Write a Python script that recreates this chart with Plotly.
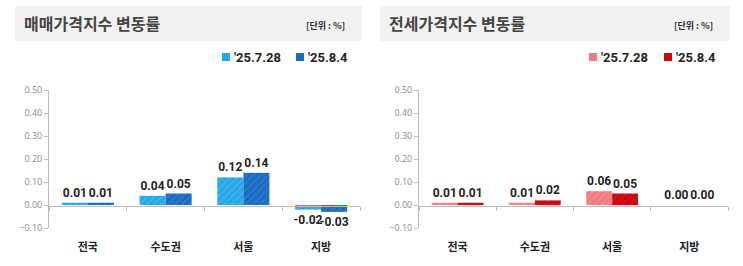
import plotly.graph_objects as go

categories = ["전국", "수도권", "서울", "지방"]
sale_0728 = [0.01, 0.04, 0.12, -0.02]
sale_0804 = [0.01, 0.05, 0.14, -0.03]
jeonse_0728 = [0.01, 0.01, 0.06, 0.00]
jeonse_0804 = [0.01, 0.02, 0.05, 0.00]
series_names = ["'25.7.28", "'25.8.4"]
titles = ["매매가격지수 변동률", "전세가격지수 변동률"]
unit_label = "[단위 : %]"
y_ticks = [-0.1, 0.0, 0.1, 0.2, 0.3, 0.4, 0.5]

W, H = 743, 266
KR = "Noto Sans CJK KR"
NUM = "Roboto"

fig = go.Figure()

def px_x(v):
    return v / W

def px_y(v):
    return 1 - v / H

panels = [
    dict(xd=(49, 360), box=(15, 362), xa="x", ya="y", leg=(222, 296),
         data=(sale_0728, sale_0804), colors=("#25A9E6", "#1A6CC2"),
         pat=("rgba(255,255,255,0.25)", "rgba(255,255,255,0.18)")),
    dict(xd=(419, 728), box=(380, 730), xa="x2", ya="y2", leg=(589, 664),
         data=(jeonse_0728, jeonse_0804), colors=("#F37C7E", "#C8090E"),
         pat=("rgba(255,255,255,0.3)", "rgba(255,255,255,0.12)")),
]

ydom = (px_y(228), px_y(90))
zero_pos = px_y(205.7)

for i, p in enumerate(panels):
    for j in range(2):
        fig.add_trace(go.Bar(
            x=categories, y=p["data"][j], name=series_names[j],
            xaxis=p["xa"], yaxis=p["ya"], showlegend=False,
            marker=dict(color=p["colors"][j], line=dict(width=0),
                        pattern=dict(shape="/", fgcolor=p["pat"][j], size=5, solidity=0.3)),
            texttemplate="%{y:.2f}", textposition="outside", cliponaxis=False,
            constraintext="none",
            textfont=dict(family=NUM, size=12, color="#222222", weight="bold"),
        ))
        lx = p["leg"][j]
        fig.add_shape(type="rect", xref="paper", yref="paper",
                      x0=px_x(lx), x1=px_x(lx + 8), y0=px_y(61), y1=px_y(53),
                      fillcolor=p["colors"][j], line=dict(width=0))
        fig.add_annotation(xref="paper", yref="paper", x=px_x(lx + 10), y=px_y(57),
                           xanchor="left", yanchor="middle", showarrow=False,
                           text=series_names[j],
                           font=dict(family="Roboto", size=13, color="#222222", weight="bold"))
    sfx = "" if i == 0 else "2"
    fig.layout["xaxis" + sfx] = dict(
        domain=[px_x(p["xd"][0]), px_x(p["xd"][1])], anchor="free", position=zero_pos,
        showline=True, linecolor="#BDBDBD", linewidth=1, ticks="outside", ticklen=4,
        tickcolor="#BDBDBD", tickson="boundaries", ticklabelstandoff=31,
        tickfont=dict(family=KR, size=11, color="#222222", weight="bold"),
        showgrid=False, fixedrange=True,
    )
    fig.layout["yaxis" + sfx] = dict(
        domain=list(ydom), range=[-0.1, 0.5], anchor="x" + sfx,
        tickvals=y_ticks, tickformat=".2f", showgrid=False, zeroline=False,
        showline=True, linecolor="#BDBDBD", linewidth=1, ticks="outside", ticklen=4,
        tickcolor="#BDBDBD", tickfont=dict(family="Open Sans", size=9, color="#8A8A8A"),
    )
    fig.add_shape(type="rect", xref="paper", yref="paper",
                  x0=px_x(p["box"][0]), x1=px_x(p["box"][1]), y0=px_y(41), y1=px_y(6),
                  fillcolor="#F2F2F2", line=dict(width=0), layer="below")
    fig.add_annotation(xref="paper", yref="paper", x=px_x(p["box"][0] + 7), y=px_y(23),
                       xanchor="left", yanchor="middle", showarrow=False, text=titles[i],
                       font=dict(family=KR, size=16, color="#444444", weight="bold"))
    fig.add_annotation(xref="paper", yref="paper", x=px_x(p["box"][1] - 15), y=px_y(25),
                       xanchor="right", yanchor="middle", showarrow=False, text=unit_label,
                       font=dict(family=KR, size=9, color="#333333", weight="bold"))

fig.update_layout(
    width=W, height=H, margin=dict(l=0, r=0, t=0, b=0, autoexpand=False),
    paper_bgcolor="white", plot_bgcolor="white",
    barmode="group", bargap=0.33, bargroupgap=0.0, showlegend=False,
)

fig.write_html("out.html")
